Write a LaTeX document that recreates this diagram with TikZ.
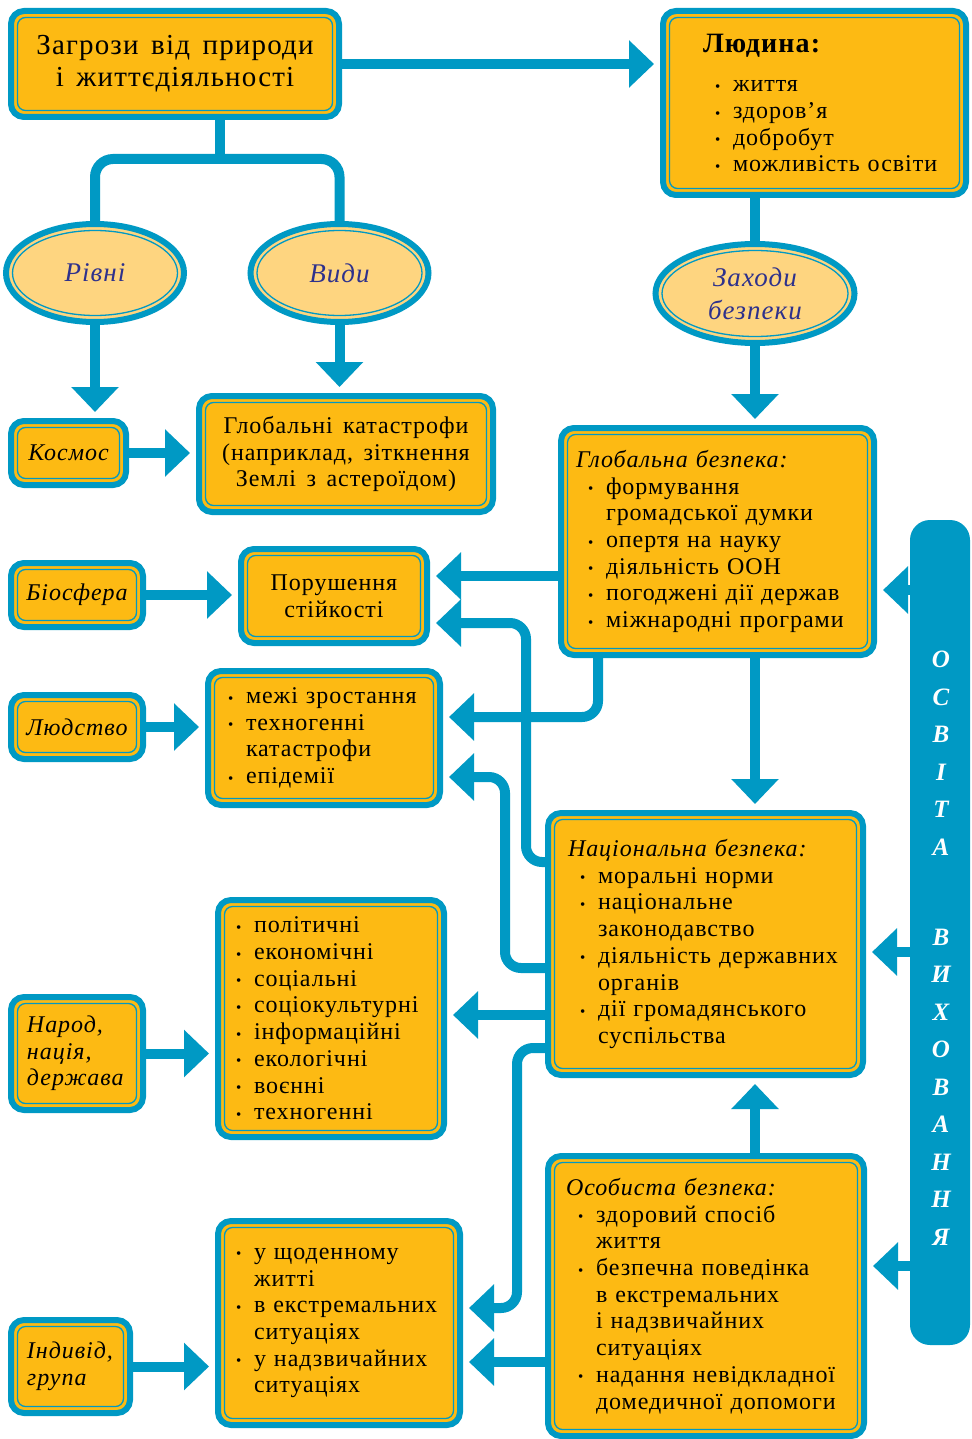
\documentclass[tikz,border=0pt]{standalone}
\usepackage{fontspec}
\setmainfont{Liberation Serif}[LetterSpace=4,WordSpace=1.5]
\usetikzlibrary{arrows.meta,shapes.geometric,calc}
\definecolor{bb}{RGB}{0,153,196}
\definecolor{bo}{RGB}{253,186,19}
\definecolor{bl}{RGB}{254,213,128}
\definecolor{bt}{RGB}{46,49,140}
\newcommand{\bu}{\makebox[18pt][l]{\raisebox{0.5pt}{\fontsize{15}{15}\selectfont •}}}
\newcommand{\ii}{\hspace*{12pt}}
\newcommand{\jj}{\hspace*{30pt}}
\newcommand{\kk}{\hspace*{18pt}}
\tikzset{
  box/.style={rectangle, rounded corners=13pt, fill=bo, draw=bb, line width=6pt,
    inner sep=0pt, font=\fontsize{24}{26.7}\selectfont,
    path picture={\draw[bb, line width=1.3pt, fill=none, rounded corners=8pt]
      ([shift={(6.5pt,-6.5pt)}]path picture bounding box.north west) rectangle
      ([shift={(-6.5pt,6.5pt)}]path picture bounding box.south east);}},
  ell/.style 2 args={ellipse, fill=bl, draw=bb, line width=6pt, inner sep=0pt,
    minimum width={2*#1pt}, minimum height={2*#2pt},
    font=\fontsize{27}{33}\selectfont\itshape, text=bt, align=center,
    path picture={\draw[bb, line width=1.3pt, fill=none]
      (path picture bounding box.center) ellipse [x radius={#1pt-6.5pt}, y radius={#2pt-6.5pt}];}},
  itbox/.style={box, font=\fontsize{24}{26.7}\selectfont\itshape},
  conn/.style={draw=bb, line width=10pt},
  arr/.style={conn, -{Triangle[width=46pt,length=25pt]}, shorten >=6pt},
  bar/.style={fill=bb, rounded corners=20pt, inner sep=0pt},
  bartext/.style={text=white, font=\fontsize{25}{37.5}\selectfont\bfseries\itshape, align=center, inner sep=0pt}
}
\begin{document}
\begin{tikzpicture}[x=1pt,y=-1pt]
\fill[white] (0,0) rectangle (971,1439);
\useasboundingbox (0,0) rectangle (971,1439);

% nodes
\node[box, minimum width=328pt, minimum height=106pt, align=center, font=\fontsize{29}{32}\selectfont] (A) at (175,64) {Загрози від природи\\і життєдіяльності};

\node[box, minimum width=303pt, minimum height=184pt, text width=223pt, inner xsep=40pt, align=left] (B) at (814.5,103)
 {{\fontsize{28}{30}\selectfont\bfseries Людина:}\\[13pt] \ii\bu життя\\ \ii\bu здоров’я\\ \ii\bu добробут\\ \ii\bu \mbox{можливість освіти}};

\node[ell={89}{49}] (R) at (95,273) {Рівні};
\node[ell={89}{49}] (V) at (339.5,273) {Види};
\node[ell={99.5}{49.5}] (Z) at (755,293.5) {Заходи\\безпеки};

\node[itbox, minimum width=115pt, minimum height=64pt] (K) at (68.5,453) {Космос};
\node[box, minimum width=294pt, minimum height=116pt, align=center] (G) at (346,454) {Глобальні катастрофи\\(наприклад, зіткнення\\Землі з астероїдом)};

\node[box, minimum width=313pt, minimum height=227pt, text width=283pt, inner xsep=15pt, align=left] (GB) at (717.5,541.5)
 {\textit{Глобальна безпека:}\\ \ii\bu формування\\ \jj\mbox{громадської думки}\\ \ii\bu \mbox{опертя на науку}\\ \ii\bu \mbox{діяльність ООН}\\ \ii\bu \mbox{погоджені дії держав}\\ \ii\bu \mbox{міжнародні програми}};

\node[itbox, minimum width=132pt, minimum height=64pt] (Bi) at (77,595) {Біосфера};
\node[box, minimum width=186pt, minimum height=94pt, align=center] (P) at (334,596) {Порушення\\стійкості};

\node[itbox, minimum width=132pt, minimum height=64pt] (L) at (77,727) {Людство};
\node[box, minimum width=232pt, minimum height=134pt, text width=192pt, inner xsep=20pt, align=left] (M) at (324,738)
 {\bu\mbox{межі зростання}\\ \bu техногенні\\ \kk катастрофи\\ \bu епідемії};

\node[box, minimum width=315pt, minimum height=262pt, text width=275pt, inner xsep=20pt, align=left] (NB) at (705.5,944)
 {\textit{\mbox{Національна безпека:}}\\ \ii\bu \mbox{моральні норми}\\ \ii\bu національне\\ \jj законодавство\\ \ii\bu \mbox{діяльність державних}\\ \jj органів\\ \ii\bu \mbox{дії громадянського}\\ \jj суспільства};

\node[itbox, minimum width=132pt, minimum height=113pt, text width=100pt, inner xsep=16pt, align=left] (N) at (77,1053.5) {Народ,\\нація,\\держава};
\node[box, minimum width=226pt, minimum height=237pt, text width=190pt, inner xsep=18pt, align=left] (Pol) at (331,1018.5)
 {\bu політичні\\ \bu економічні\\ \bu соціальні\\ \bu соціокультурні\\ \bu інформаційні\\ \bu екологічні\\ \bu воєнні\\ \bu техногенні};

\node[box, minimum width=316pt, minimum height=280pt, text width=280pt, inner xsep=18pt, align=left] (OB) at (706,1296)
 {\textit{\mbox{Особиста безпека:}}\\ \ii\bu \mbox{здоровий спосіб}\\ \jj життя\\ \ii\bu \mbox{безпечна поведінка}\\ \jj \mbox{в екстремальних}\\ \jj \mbox{і надзвичайних}\\ \jj ситуаціях\\ \ii\bu \mbox{надання невідкладної}\\ \jj \mbox{домедичної допомоги}};

\node[itbox, minimum width=119pt, minimum height=93pt, text width=87pt, inner xsep=16pt, align=left] (I) at (70.5,1366.5) {Індивід,\\група};
\node[box, minimum width=242pt, minimum height=204pt, text width=206pt, inner xsep=18pt, align=left] (Sh) at (339,1323)
 {\bu \mbox{у щоденному}\\ \kk житті\\ \bu \mbox{в екстремальних}\\ \kk ситуаціях\\ \bu \mbox{у надзвичайних}\\ \kk ситуаціях};

\node[bar, minimum width=60pt, minimum height=825pt] (E) at (940,932.5) {};
\node[bartext] (Et) at (941,948) {О\\С\\В\\І\\Т\\А\\[52.5pt]В\\И\\Х\\О\\В\\А\\Н\\Н\\Я};

% connectors
\coordinate (J) at (220,159);
\draw[conn] (A.south -| J) -- (J);
\draw[conn, rounded corners=18pt] (R.north) |- (J) -| (V.north);
\draw[arr] (A.east) -- (B.west |- A.east);
\draw[conn] (B.south -| Z.north) -- (Z.north);
\draw[arr] (R.south) -- (R.south |- K.north);
\draw[arr] (V.south) -- (V.south |- G.north);
\draw[arr] (Z.south) -- (Z.south |- GB.north);
\draw[arr] (K.east) -- (G.west |- K.east);
\draw[arr] (Bi.east) -- (P.west |- Bi.east);
\draw[arr] (L.east) -- (M.west |- L.east);
\draw[arr] (N.east) -- (Pol.west |- N.east);
\draw[arr] (I.east) -- (Sh.west |- I.east);
\draw[arr] (GB.west |- 0,576) -- (P.east |- 0,576);
\draw[arr, rounded corners=16pt] (NB.west |- 0,862) -| (526,623) -- (P.east |- 0,623);
\draw[arr, rounded corners=16pt] (GB.south -| 598,0) |- (M.east |- 0,717);
\draw[arr, rounded corners=16pt] (NB.west |- 0,968) -| (505,777) -- (M.east |- 0,777);
\draw[arr] (Z.south |- GB.south) -- (Z.south |- NB.north);
\draw[arr] (NB.west |- 0,1015) -- (Pol.east |- 0,1015);
\draw[arr, rounded corners=16pt] (NB.west |- 0,1048) -| (517,1308) -- (Sh.east |- 0,1308);
\draw[arr] (Z.south |- OB.north) -- (Z.south |- NB.south);
\draw[arr] (OB.west |- 0,1362) -- (Sh.east |- 0,1362);
\draw[arr] (E.west |- 0,590) -- (GB.east |- 0,590);
\draw[arr] (E.west |- 0,952) -- (NB.east |- 0,952);
\draw[arr] (E.west |- 0,1266) -- (OB.east |- 0,1266);
\end{tikzpicture}
\end{document}
